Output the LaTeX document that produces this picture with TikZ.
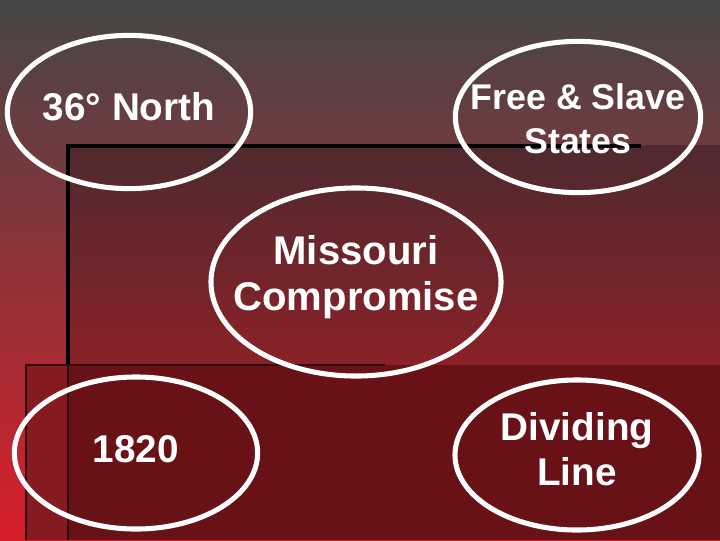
\documentclass[tikz,border=0pt]{standalone}
\usepackage{fontspec}
\setmainfont{Liberation Sans}
\usetikzlibrary{shapes.geometric, positioning}
\definecolor{bggray}{HTML}{464646}
\definecolor{bgmid}{HTML}{8A3038}
\definecolor{bgred}{HTML}{D81E2A}
\definecolor{paneltop}{HTML}{4E2A2E}
\definecolor{panelbot}{HTML}{8A2128}
\definecolor{lowpanel}{HTML}{681217}
\definecolor{lowstrip}{HTML}{861A21}
\definecolor{paneledge}{HTML}{2E0E10}

\begin{document}
\begin{tikzpicture}[x=0.025cm, y=-0.025cm,
  ring/.style={draw=white, line width=3.6pt, ellipse, inner sep=0pt},
  caption/.style={text=white, font=\fontsize{27.5}{32}\selectfont\bfseries, align=center}]
  % Background
  \shade[top color=bggray, middle color=bgmid, bottom color=bgred] (0,0) rectangle (720,540);
  \useasboundingbox (0,0) rectangle (720,540);

  % Upper panel
  \shade[top color=paneltop, bottom color=panelbot] (68,145) rectangle (720,365);
  % Lower panel
  \fill[lowstrip] (26,365) rectangle (68,540);
  \fill[lowpanel] (68,365) rectangle (720,540);

  % Panel edges
  \draw[black, line width=2.2pt] (68,365) -- (68,146) -- (641,146);
  \draw[paneledge, line width=1.5pt] (68,365) -- (68,540);
  \draw[paneledge, line width=1.5pt] (26,540) -- (26,365) -- (385,365);

  % Circles
  \node[ring, minimum width=6.08cm, minimum height=3.83cm] (north) at (129,112) {};
  \node[ring, minimum width=6.13cm, minimum height=3.78cm] (states) at (578,117) {};
  \node[ring, minimum width=7.25cm, minimum height=4.7cm] (missouri) at (356,282) {};
  \node[ring, minimum width=6.08cm, minimum height=3.8cm] (year) at (136,453) {};
  \node[ring, minimum width=6.1cm, minimum height=3.75cm] (line) at (577,455) {};

  % Labels
  \node[caption, yshift=0.12cm] (northtxt) at (north) {36° North};
  \node[caption, font=\fontsize{25.4}{31}\selectfont\bfseries, yshift=-0.04cm] (statestxt) at (states) {Free \& Slave\\States};
  \node[caption, font=\fontsize{28.5}{33}\selectfont\bfseries, yshift=0.12cm] (missouritxt) at (missouri) {Missouri\\Compromise};
  \node[caption, yshift=0.1cm] (yeartxt) at (year) {1820};
  \node[caption, yshift=0.15cm] (linetxt) at (line) {Dividing\\Line};
\end{tikzpicture}
\end{document}
